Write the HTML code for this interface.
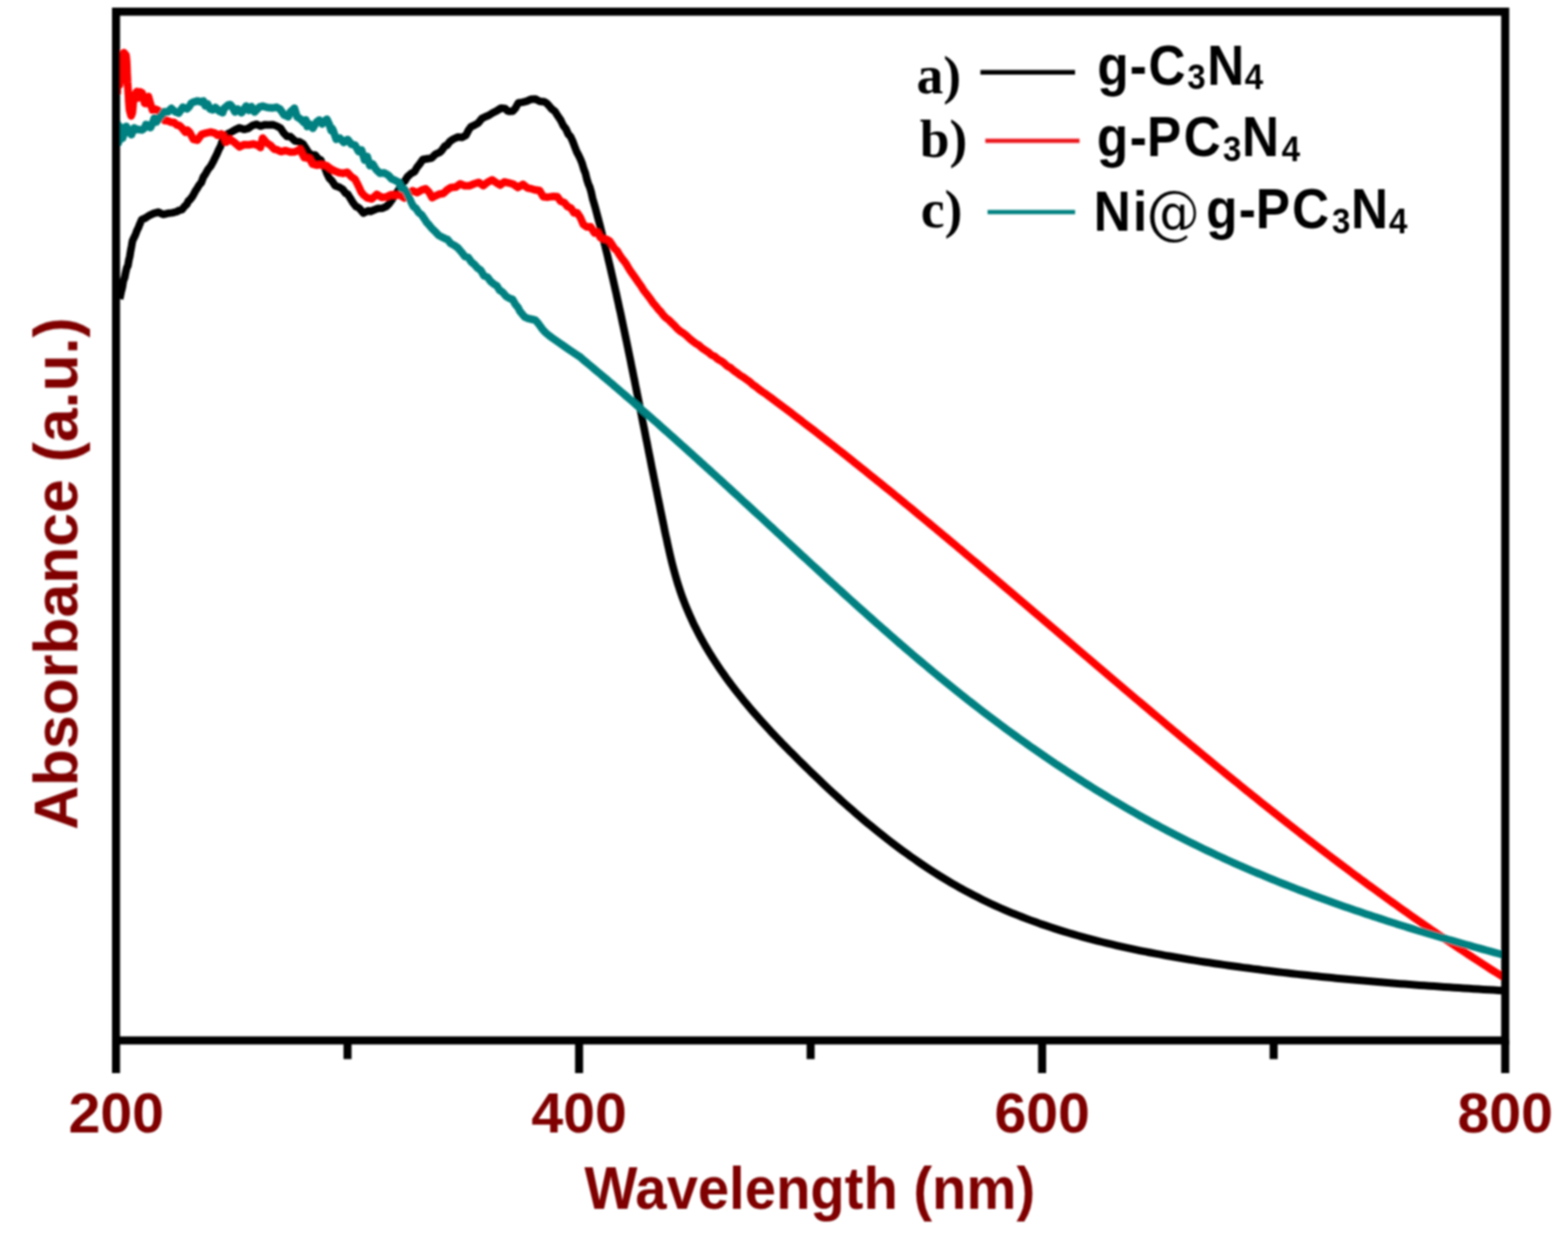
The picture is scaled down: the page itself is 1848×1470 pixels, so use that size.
<!DOCTYPE html>
<html><head><meta charset="utf-8"><title>Absorbance spectra</title>
<style>
html,body{margin:0;padding:0;background:#fff;}
body{width:1848px;height:1470px;overflow:hidden;}
svg{display:block;}
.tk{font-family:"Liberation Sans",Arial,sans-serif;font-weight:bold;fill:#800000;}
.lg{font-family:"Liberation Sans",Arial,sans-serif;font-weight:bold;fill:#000;}
.ls{font-family:"Liberation Serif","Times New Roman",serif;font-weight:bold;fill:#000;}
</style></head>
<body>
<svg width="1848" height="1470" viewBox="0 0 1848 1470">
<defs><filter id="soft"><feGaussianBlur stdDeviation="1"/></filter></defs>
<rect width="1848" height="1470" fill="#fff"/>
<g filter="url(#soft)">
<g fill="none" stroke-linejoin="round" stroke-linecap="butt">
<path d="M140.9,352.2 L141.7,349.4 L142.9,343.4 L143.6,341.1 L144.3,338.1 L145.0,333.2 L145.7,330.1 L146.9,327.4 L148.2,320.7 L149.4,315.7 L150.7,313.4 L151.8,306.9 L152.9,302.5 L154.0,295.6 L155.0,290.6 L156.1,284.2 L157.8,280.4 L159.7,276.6 L161.6,271.3 L162.9,268.9 L164.1,265.8 L167.0,258.9 L171.0,257.3 L175.7,254.1 L181.0,251.7 L186.6,250.1 L192.1,252.8 L197.5,251.5 L203.1,250.9 L208.4,249.5 L211.5,247.8 L214.4,247.2 L217.1,243.7 L220.4,240.5 L222.0,236.7 L223.7,235.6 L227.0,231.4 L230.6,224.6 L232.4,222.1 L234.8,218.0 L237.2,215.4 L239.7,208.6 L242.4,204.7 L245.2,199.6 L248.1,196.2 L250.8,191.4 L253.3,186.3 L255.6,181.7 L257.8,176.5 L260.0,172.3 L262.0,166.3 L264.1,162.3 L267.4,158.2 L272.0,156.0 L276.9,153.1 L282.2,150.7 L287.6,152.6 L292.7,151.3 L297.3,148.1 L302.1,146.4 L307.0,148.7 L311.9,147.1 L316.7,147.2 L321.5,146.9 L326.1,148.6 L330.7,151.2 L334.5,156.9 L338.3,160.8 L342.2,161.1 L347.5,166.1 L352.9,167.2 L357.0,169.6 L359.9,173.9 L363.4,179.6 L367.2,182.7 L371.5,182.8 L375.9,188.1 L378.0,188.5 L380.6,194.7 L383.1,198.2 L385.6,205.1 L388.2,210.3 L391.0,213.0 L395.0,218.9 L399.4,220.4 L403.8,223.0 L407.5,228.0 L409.5,228.5 L412.8,233.6 L415.7,238.5 L419.4,243.4 L421.6,244.2 L423.8,245.9 L428.2,251.2 L433.8,248.4 L436.6,249.2 L439.6,248.0 L444.9,245.8 L450.3,245.6 L454.9,243.7 L458.6,240.2 L460.8,237.2 L463.5,233.1 L466.6,228.3 L469.6,224.4 L472.2,219.0 L474.1,216.1 L477.0,213.4 L480.5,208.1 L484.5,204.5 L488.5,202.5 L491.6,197.1 L494.8,193.1 L498.3,188.0 L503.3,187.2 L508.7,186.3 L513.6,181.6 L518.2,179.6 L520.4,177.6 L524.5,171.8 L526.6,171.4 L530.2,166.7 L534.2,164.0 L539.4,161.6 L544.8,161.9 L549.1,159.5 L552.2,153.4 L555.3,149.3 L559.1,147.6 L563.5,145.1 L568.0,139.6 L572.9,137.3 L575.6,136.3 L580.8,133.0 L585.9,130.4 L590.6,127.4 L595.5,128.0 L598.0,130.6 L600.5,131.3 L604.4,130.9 L607.3,127.7 L611.0,121.1 L615.4,120.6 L620.6,119.4 L625.6,117.1 L631.1,116.8 L636.3,119.6 L641.6,120.0 L644.4,121.8 L646.8,124.4 L650.5,128.7 L654.1,131.4 L657.5,136.8 L660.8,141.6 L663.9,148.1 L666.9,151.8 L669.7,158.1 L672.4,161.0 L675.0,166.7 L677.4,173.0 L679.7,179.0 L681.9,183.0 L684.1,187.6 L686.1,192.7 L688.1,199.5 L689.9,204.0 L691.7,211.5 L693.5,217.1 L695.1,220.7 L696.8,226.6 L698.4,233.9 L699.9,239.0 L701.4,244.2 L702.9,249.9 L704.4,255.5 L705.9,261.2 L707.4,266.8 L708.8,272.5 L710.2,278.2 L711.6,283.8 L713.0,289.5 L714.4,295.1 L715.8,300.8 L717.1,306.5 L718.5,312.1 L719.8,317.8 L721.1,323.5 L722.4,329.1 L723.7,334.8 L725.0,340.5 L726.3,346.1 L727.5,351.8 L728.8,357.5 L730.0,363.2 L731.3,368.8 L732.5,374.5 L733.7,380.2 L734.9,385.9 L736.1,391.5 L737.3,397.2 L738.5,402.9 L739.7,408.6 L740.8,414.2 L742.0,419.9 L743.2,425.6 L744.3,431.3 L745.5,437.0 L746.6,442.7 L747.8,448.3 L748.9,454.0 L750.1,459.7 L751.2,465.4 L752.4,471.1 L753.5,476.8 L754.6,482.5 L755.8,488.1 L756.9,493.8 L758.0,499.5 L759.2,505.2 L760.3,510.9 L761.4,516.6 L762.6,522.3 L763.7,528.0 L764.8,533.7 L766.0,539.4 L767.1,545.1 L768.2,550.8 L769.4,556.5 L770.5,562.2 L771.7,567.9 L772.8,573.6 L774.0,579.3 L775.1,585.0 L776.3,590.7 L777.5,596.4 L778.6,602.1 L779.8,607.8 L781.0,613.5 L782.2,619.2 L783.3,624.9 L784.5,630.6 L785.8,636.3 L787.0,642.0 L788.3,647.7 L789.6,653.4 L790.9,659.0 L792.3,664.7 L793.8,670.3 L795.3,675.9 L796.9,681.5 L798.5,687.0 L800.3,692.5 L802.1,698.0 L804.0,703.5 L806.1,708.9 L808.2,714.3 L810.4,719.6 L812.7,724.9 L815.1,730.2 L817.5,735.4 L820.1,740.6 L822.7,745.7 L825.4,750.8 L828.2,755.9 L831.0,760.9 L834.0,765.8 L836.9,770.7 L840.0,775.6 L843.1,780.4 L846.3,785.2 L849.5,790.0 L852.8,794.7 L856.1,799.4 L859.5,804.0 L863.0,808.6 L866.5,813.2 L870.1,817.7 L873.7,822.2 L877.3,826.7 L881.0,831.2 L884.7,835.6 L888.5,840.0 L892.3,844.3 L896.2,848.7 L900.1,853.0 L904.0,857.3 L907.9,861.6 L911.9,865.8 L915.9,870.0 L920.0,874.3 L924.0,878.5 L928.1,882.6 L932.2,886.8 L936.4,890.9 L940.5,895.1 L944.7,899.2 L948.8,903.3 L953.0,907.4 L957.2,911.5 L961.5,915.6 L965.7,919.6 L970.0,923.7 L974.2,927.7 L978.5,931.7 L982.8,935.7 L987.2,939.6 L991.5,943.6 L995.9,947.5 L1000.3,951.4 L1004.7,955.2 L1009.1,959.1 L1013.5,962.9 L1018.0,966.7 L1022.5,970.4 L1027.0,974.1 L1031.5,977.8 L1036.1,981.5 L1040.6,985.1 L1045.2,988.7 L1049.8,992.3 L1054.5,995.8 L1059.1,999.3 L1063.8,1002.8 L1068.5,1006.2 L1073.2,1009.6 L1078.0,1012.9 L1082.7,1016.2 L1087.5,1019.5 L1092.3,1022.7 L1097.2,1025.9 L1102.0,1029.0 L1106.9,1032.1 L1111.8,1035.1 L1116.8,1038.1 L1121.7,1041.1 L1126.7,1043.9 L1131.7,1046.8 L1136.8,1049.6 L1141.9,1052.3 L1147.0,1055.0 L1152.1,1057.6 L1157.2,1060.2 L1162.4,1062.7 L1167.6,1065.2 L1172.8,1067.6 L1178.1,1070.0 L1183.4,1072.3 L1188.7,1074.6 L1194.0,1076.8 L1199.4,1078.9 L1204.7,1081.0 L1210.1,1083.1 L1215.5,1085.1 L1221.0,1087.1 L1226.4,1089.1 L1231.9,1090.9 L1237.4,1092.8 L1242.9,1094.6 L1248.4,1096.4 L1254.0,1098.1 L1259.5,1099.8 L1265.1,1101.4 L1270.7,1103.0 L1276.3,1104.6 L1281.9,1106.1 L1287.6,1107.6 L1293.2,1109.1 L1298.9,1110.5 L1304.6,1111.9 L1310.2,1113.2 L1315.9,1114.6 L1321.6,1115.9 L1327.3,1117.1 L1333.1,1118.4 L1338.8,1119.6 L1344.5,1120.8 L1350.3,1121.9 L1356.0,1123.0 L1361.8,1124.1 L1367.5,1125.2 L1373.3,1126.3 L1379.1,1127.3 L1384.8,1128.3 L1390.6,1129.3 L1396.4,1130.3 L1402.2,1131.2 L1407.9,1132.1 L1413.7,1133.1 L1419.5,1134.0 L1425.3,1134.8 L1431.1,1135.7 L1436.8,1136.5 L1442.6,1137.4 L1448.4,1138.2 L1454.2,1139.0 L1459.9,1139.8 L1465.7,1140.6 L1471.4,1141.3 L1477.2,1142.1 L1483.0,1142.8 L1488.7,1143.6 L1494.5,1144.3 L1500.2,1145.0 L1506.0,1145.7 L1511.7,1146.4 L1517.5,1147.0 L1523.2,1147.7 L1529.0,1148.4 L1534.7,1149.0 L1540.5,1149.6 L1546.2,1150.2 L1552.0,1150.8 L1557.7,1151.4 L1563.5,1152.0 L1569.3,1152.6 L1575.0,1153.2 L1580.8,1153.7 L1586.5,1154.3 L1592.3,1154.8 L1598.0,1155.3 L1603.8,1155.8 L1609.5,1156.3 L1615.3,1156.8 L1621.1,1157.3 L1626.8,1157.8 L1632.6,1158.3 L1638.4,1158.8 L1644.1,1159.2 L1649.9,1159.7 L1655.7,1160.1 L1661.5,1160.6 L1667.2,1161.0 L1673.0,1161.4 L1678.8,1161.8 L1684.6,1162.2 L1690.4,1162.6 L1696.2,1163.0 L1702.0,1163.4 L1707.8,1163.8 L1713.6,1164.2 L1719.4,1164.6 L1725.3,1164.9 L1731.1,1165.3 L1736.9,1165.7 L1742.8,1166.0 L1748.6,1166.4 L1754.4,1166.7 L1760.3,1167.0 L1766.1,1167.4 L1772.0,1167.7" stroke="#000" stroke-width="9"/>
<path d="M138.0,110.9 L138.1,109.1 L138.2,103.0 L138.3,98.1 L138.3,95.4 L138.4,91.7 L138.5,89.0 L138.6,86.3 L138.8,79.3 L139.4,79.4 L139.7,85.6 L139.9,88.7 L140.2,94.1 L140.4,95.6 L141.0,99.8 L141.5,96.1 L141.8,89.0 L142.0,87.9 L142.2,84.4 L142.3,78.5 L142.5,75.2 L142.7,73.7 L143.2,70.0 L146.0,62.0 L148.5,65.1 L149.0,69.1 L149.3,72.5 L149.6,78.6 L149.8,85.3 L149.9,88.5 L150.1,90.8 L150.3,96.5 L150.7,102.0 L151.1,108.8 L151.3,111.4 L151.5,113.7 L151.7,119.1 L152.1,123.9 L152.5,129.0 L153.0,131.1 L154.5,136.7 L156.0,133.1 L156.6,126.9 L157.0,121.9 L157.3,120.0 L157.7,114.6 L159.2,111.1 L161.3,107.8 L162.1,115.6 L164.0,115.0 L165.0,108.3 L167.5,109.6 L169.0,115.4 L170.5,121.7 L171.2,122.1 L173.5,122.1 L175.0,113.8 L176.9,120.9 L179.7,129.7 L183.7,128.8 L187.9,130.9 L190.0,136.4 L192.1,140.1 L194.1,142.3 L196.3,141.8 L201.7,144.2 L205.1,144.2 L208.3,147.3 L211.5,148.0 L214.7,151.1 L218.6,156.0 L220.9,153.5 L223.4,155.6 L228.0,164.4 L232.8,165.2 L237.7,158.4 L242.9,156.9 L248.4,155.7 L253.8,157.2 L256.3,159.5 L260.5,157.8 L263.3,159.7 L266.7,167.6 L271.0,164.1 L276.4,168.0 L282.2,173.1 L287.8,170.4 L293.4,170.7 L298.9,169.7 L304.2,171.6 L306.9,174.0 L309.5,162.7 L314.4,168.5 L318.9,171.3 L323.3,176.0 L325.9,176.2 L331.0,178.8 L336.6,177.5 L342.2,179.3 L347.9,178.9 L353.5,175.9 L358.5,185.7 L362.0,186.2 L364.8,186.9 L368.3,193.4 L373.1,194.8 L378.7,194.1 L384.6,195.2 L389.3,198.7 L394.4,201.5 L399.5,203.5 L404.2,204.4 L409.2,203.0 L414.0,208.3 L418.4,211.3 L422.4,219.1 L425.8,226.5 L429.0,230.3 L433.0,233.4 L438.2,234.5 L444.1,229.2 L449.9,232.7 L455.5,232.1 L460.8,229.5 L466.1,230.2 L471.3,229.8 L476.4,233.4 L481.5,227.8 L486.3,224.9 L491.6,227.1 L496.9,224.1 L501.6,222.5 L505.6,226.4 L509.3,233.1 L513.4,230.8 L517.8,228.8 L522.3,228.3 L527.0,223.9 L531.7,220.9 L537.5,220.4 L542.2,216.7 L547.6,219.0 L553.2,219.0 L558.7,216.8 L564.1,215.0 L569.5,218.9 L574.8,214.7 L580.0,212.0 L584.9,215.4 L589.5,218.3 L594.3,214.4 L599.5,215.6 L604.8,217.0 L610.5,221.1 L616.3,217.3 L621.6,221.6 L626.8,222.7 L631.6,224.1 L635.9,224.5 L640.3,232.0 L645.8,232.4 L651.2,231.6 L656.7,231.7 L660.8,237.3 L664.9,238.7 L668.9,243.5 L673.0,245.4 L676.6,251.1 L680.2,250.8 L683.9,256.3 L687.5,264.6 L691.4,267.5 L696.1,267.3 L700.7,274.7 L704.3,273.7 L707.7,280.3 L711.5,281.6 L715.0,282.2 L718.4,284.2 L721.5,288.6 L724.4,293.1 L727.3,295.6 L730.0,300.2 L732.6,304.1 L735.2,307.4 L737.8,310.7 L740.4,315.4 L742.9,319.4 L745.5,323.0 L748.1,326.6 L750.7,330.4 L753.3,334.2 L756.0,337.9 L758.6,342.3 L761.4,345.8 L764.1,349.3 L766.9,352.9 L769.8,357.3 L772.7,360.5 L775.6,364.3 L778.7,367.5 L781.8,371.6 L785.0,374.9 L788.2,377.1 L791.5,380.5 L794.9,383.8 L798.3,387.6 L801.8,390.4 L805.4,392.8 L808.9,395.5 L812.5,398.9 L816.2,401.9 L819.9,404.8 L823.6,406.9 L827.3,410.3 L831.0,412.7 L834.8,415.2 L838.5,418.5 L842.3,420.2 L846.1,423.5 L849.8,425.4 L853.6,428.2 L857.4,431.8 L861.1,433.6 L864.9,437.0 L868.6,439.5 L872.4,442.5 L876.1,444.7 L879.8,447.4 L883.6,450.0 L887.3,453.5 L891.0,455.9 L894.7,459.0 L898.4,461.7 L902.1,464.0 L905.8,466.8 L909.5,469.5 L913.2,472.3 L916.9,475.1 L920.6,477.9 L924.3,480.6 L928.0,483.4 L931.7,486.2 L935.3,489.0 L939.0,491.8 L942.7,494.6 L946.3,497.5 L950.0,500.3 L953.7,503.1 L957.3,505.9 L961.0,508.7 L964.6,511.6 L968.3,514.4 L971.9,517.3 L975.5,520.1 L979.2,523.0 L982.8,525.8 L986.4,528.7 L990.0,531.5 L993.7,534.4 L997.3,537.3 L1000.9,540.1 L1004.5,543.0 L1008.1,545.9 L1011.7,548.8 L1015.3,551.7 L1018.9,554.6 L1022.5,557.5 L1026.1,560.4 L1029.7,563.3 L1033.3,566.2 L1036.9,569.1 L1040.5,572.0 L1044.1,574.9 L1047.7,577.8 L1051.3,580.7 L1054.8,583.7 L1058.4,586.6 L1062.0,589.5 L1065.6,592.5 L1069.1,595.4 L1072.7,598.3 L1076.3,601.3 L1079.8,604.2 L1083.4,607.2 L1086.9,610.1 L1090.5,613.1 L1094.1,616.0 L1097.6,619.0 L1101.2,621.9 L1104.7,624.9 L1108.3,627.8 L1111.8,630.8 L1115.4,633.8 L1118.9,636.7 L1122.5,639.7 L1126.0,642.7 L1129.5,645.7 L1133.1,648.6 L1136.6,651.6 L1140.1,654.6 L1143.7,657.6 L1147.2,660.6 L1150.8,663.5 L1154.3,666.5 L1157.8,669.5 L1161.3,672.5 L1164.9,675.5 L1168.4,678.5 L1171.9,681.5 L1175.5,684.5 L1179.0,687.5 L1182.5,690.5 L1186.0,693.5 L1189.6,696.5 L1193.1,699.5 L1196.6,702.5 L1200.1,705.5 L1203.6,708.5 L1207.2,711.5 L1210.7,714.5 L1214.2,717.5 L1217.7,720.5 L1221.2,723.5 L1224.8,726.5 L1228.3,729.5 L1231.8,732.5 L1235.3,735.5 L1238.8,738.5 L1242.4,741.5 L1245.9,744.5 L1249.4,747.5 L1252.9,750.5 L1256.4,753.5 L1259.9,756.5 L1263.5,759.6 L1267.0,762.6 L1270.5,765.6 L1274.0,768.6 L1277.5,771.6 L1281.1,774.6 L1284.6,777.6 L1288.1,780.6 L1291.6,783.6 L1295.1,786.6 L1298.7,789.6 L1302.2,792.6 L1305.7,795.6 L1309.2,798.6 L1312.7,801.6 L1316.3,804.6 L1319.8,807.6 L1323.3,810.6 L1326.8,813.6 L1330.4,816.6 L1333.9,819.6 L1337.4,822.6 L1341.0,825.6 L1344.5,828.5 L1348.0,831.5 L1351.6,834.5 L1355.1,837.5 L1358.6,840.5 L1362.2,843.5 L1365.7,846.4 L1369.3,849.4 L1372.8,852.4 L1376.3,855.4 L1379.9,858.3 L1383.4,861.3 L1387.0,864.3 L1390.5,867.2 L1394.1,870.2 L1397.6,873.2 L1401.2,876.1 L1404.7,879.1 L1408.3,882.0 L1411.9,885.0 L1415.4,887.9 L1419.0,890.9 L1422.5,893.8 L1426.1,896.8 L1429.7,899.7 L1433.3,902.7 L1436.8,905.6 L1440.4,908.5 L1444.0,911.5 L1447.6,914.4 L1451.1,917.3 L1454.7,920.2 L1458.3,923.1 L1461.9,926.1 L1465.5,929.0 L1469.1,931.9 L1472.7,934.8 L1476.3,937.7 L1479.9,940.6 L1483.5,943.5 L1487.1,946.4 L1490.7,949.3 L1494.3,952.1 L1497.9,955.0 L1501.6,957.9 L1505.2,960.8 L1508.8,963.6 L1512.4,966.5 L1516.1,969.4 L1519.7,972.2 L1523.3,975.1 L1527.0,977.9 L1530.6,980.8 L1534.2,983.6 L1537.9,986.5 L1541.5,989.3 L1545.2,992.1 L1548.9,995.0 L1552.5,997.8 L1556.2,1000.6 L1559.9,1003.4 L1563.5,1006.2 L1567.2,1009.0 L1570.9,1011.8 L1574.6,1014.6 L1578.2,1017.4 L1581.9,1020.2 L1585.6,1022.9 L1589.3,1025.7 L1593.0,1028.5 L1596.7,1031.3 L1600.4,1034.0 L1604.2,1036.8 L1607.9,1039.5 L1611.6,1042.3 L1615.3,1045.0 L1619.0,1047.7 L1622.8,1050.4 L1626.5,1053.2 L1630.3,1055.9 L1634.0,1058.6 L1637.8,1061.3 L1641.5,1064.0 L1645.3,1066.7 L1649.0,1069.4 L1652.8,1072.1 L1656.6,1074.7 L1660.3,1077.4 L1664.1,1080.1 L1667.9,1082.7 L1671.7,1085.4 L1675.5,1088.0 L1679.3,1090.7 L1683.1,1093.3 L1686.9,1095.9 L1690.7,1098.5 L1694.5,1101.2 L1698.4,1103.8 L1702.2,1106.4 L1706.0,1109.0 L1709.9,1111.5 L1713.7,1114.1 L1717.6,1116.7 L1721.4,1119.3 L1725.3,1121.8 L1729.1,1124.4 L1733.0,1126.9 L1736.9,1129.5 L1740.8,1132.0 L1744.7,1134.5 L1748.5,1137.0 L1752.4,1139.6 L1756.3,1142.1 L1760.3,1144.6 L1764.2,1147.0 L1768.1,1149.5 L1772.0,1152.0" stroke="#ff0000" stroke-width="9"/>
<path d="M138.0,144.1 L138.1,147.9 L138.2,145.6 L138.3,149.2 L138.4,159.3 L138.5,161.6 L138.6,164.1 L138.8,165.8 L139.4,168.6 L139.7,165.6 L139.9,161.7 L140.2,154.1 L140.5,153.1 L141.0,149.0 L141.6,155.2 L141.9,161.1 L142.2,164.3 L142.6,163.7 L144.5,162.9 L146.3,156.9 L147.5,152.0 L148.8,149.0 L151.1,153.8 L152.0,156.3 L154.0,157.4 L154.9,158.8 L158.0,150.8 L161.5,152.7 L163.0,152.6 L167.5,153.2 L170.4,151.0 L172.0,146.7 L174.6,147.9 L177.3,150.5 L179.7,145.6 L182.0,139.1 L184.5,143.7 L187.0,140.7 L189.0,137.1 L191.0,135.7 L193.1,131.8 L197.7,132.1 L202.0,127.8 L206.1,131.5 L210.6,133.3 L215.5,126.3 L220.5,128.4 L223.0,125.9 L225.5,121.5 L228.0,120.3 L233.0,118.9 L237.7,120.5 L239.8,119.0 L242.0,125.0 L244.6,122.4 L247.5,128.4 L250.7,129.5 L254.0,126.6 L258.6,131.2 L262.4,132.9 L264.0,128.0 L268.7,123.9 L271.3,123.2 L274.0,126.4 L276.9,132.0 L280.0,128.4 L284.7,132.9 L290.1,124.9 L293.2,130.2 L296.4,125.6 L300.0,132.1 L303.0,129.0 L306.3,125.8 L309.5,125.1 L315.2,126.8 L320.7,127.3 L325.9,126.3 L330.1,128.7 L334.7,135.4 L339.7,137.7 L342.0,132.1 L347.0,127.6 L350.2,137.9 L354.2,140.4 L358.5,144.7 L360.4,141.2 L362.0,149.2 L364.2,145.7 L368.7,151.3 L373.0,144.0 L376.2,141.4 L379.7,146.2 L385.2,140.4 L387.9,146.2 L390.3,153.9 L391.4,151.4 L392.7,153.9 L396.2,164.1 L400.5,162.8 L405.2,167.9 L409.7,164.4 L414.2,170.1 L418.5,171.1 L422.6,178.7 L426.1,176.8 L429.8,188.8 L432.8,184.4 L435.9,195.3 L439.3,193.3 L443.3,200.0 L447.8,204.2 L452.7,203.8 L457.5,206.4 L461.6,210.9 L465.8,212.7 L469.9,214.8 L473.9,222.4 L476.7,223.2 L479.5,227.2 L482.2,233.1 L484.8,238.7 L487.1,243.3 L490.3,245.7 L493.6,250.7 L497.0,253.3 L501.0,259.2 L503.1,262.6 L505.2,264.6 L509.2,269.5 L513.0,273.1 L517.0,277.3 L520.7,279.4 L524.8,281.3 L527.6,282.5 L531.1,286.9 L535.1,289.1 L539.4,292.0 L543.8,297.1 L548.0,302.5 L551.7,303.4 L555.4,308.7 L559.1,311.8 L562.8,316.0 L566.5,318.5 L570.3,325.1 L574.3,326.6 L578.3,331.8 L582.2,335.0 L585.8,337.2 L588.8,342.2 L591.4,343.6 L593.4,345.7 L596.5,349.4 L600.8,351.9 L604.0,352.8 L607.1,358.3 L610.8,362.8 L612.7,366.9 L616.0,370.9 L618.3,373.6 L622.2,375.3 L627.2,376.5 L631.0,377.4 L633.9,380.7 L637.2,385.2 L639.0,387.7 L641.1,390.1 L643.3,392.4 L646.9,395.4 L650.9,398.4 L655.2,401.4 L659.5,404.4 L663.7,407.3 L668.6,410.7 L671.2,412.5 L673.8,414.2 L676.4,415.9 L680.9,418.9 L684.0,421.0 L687.2,424.0 L690.6,426.8 L694.0,429.6 L697.4,432.4 L700.7,435.2 L704.1,438.1 L707.5,440.9 L710.8,443.7 L714.2,446.5 L717.5,449.4 L720.9,452.2 L724.2,455.1 L727.5,457.9 L730.9,460.8 L734.2,463.6 L737.5,466.5 L740.8,469.4 L744.2,472.2 L747.5,475.1 L750.8,478.0 L754.1,480.9 L757.4,483.8 L760.7,486.7 L764.0,489.5 L767.3,492.4 L770.6,495.3 L773.9,498.2 L777.2,501.2 L780.4,504.1 L783.7,507.0 L787.0,509.9 L790.3,512.8 L793.5,515.7 L796.8,518.6 L800.1,521.6 L803.3,524.5 L806.6,527.4 L809.9,530.4 L813.1,533.3 L816.4,536.2 L819.6,539.2 L822.9,542.1 L826.1,545.1 L829.4,548.0 L832.6,551.0 L835.9,553.9 L839.1,556.9 L842.4,559.8 L845.6,562.8 L848.8,565.7 L852.1,568.7 L855.3,571.7 L858.6,574.6 L861.8,577.6 L865.0,580.6 L868.3,583.5 L871.5,586.5 L874.7,589.5 L877.9,592.5 L881.2,595.4 L884.4,598.4 L887.6,601.4 L890.8,604.4 L894.1,607.3 L897.3,610.3 L900.5,613.3 L903.7,616.3 L907.0,619.3 L910.2,622.2 L913.4,625.2 L916.6,628.2 L919.9,631.2 L923.1,634.2 L926.3,637.2 L929.5,640.1 L932.7,643.1 L936.0,646.1 L939.2,649.1 L942.4,652.1 L945.6,655.1 L948.9,658.0 L952.1,661.0 L955.3,664.0 L958.6,667.0 L961.8,669.9 L965.0,672.9 L968.3,675.9 L971.5,678.9 L974.7,681.8 L978.0,684.8 L981.2,687.8 L984.5,690.7 L987.7,693.7 L991.0,696.6 L994.2,699.6 L997.5,702.6 L1000.7,705.5 L1004.0,708.5 L1007.2,711.4 L1010.5,714.3 L1013.8,717.3 L1017.0,720.2 L1020.3,723.1 L1023.6,726.1 L1026.9,729.0 L1030.1,731.9 L1033.4,734.8 L1036.7,737.7 L1040.0,740.6 L1043.3,743.5 L1046.6,746.4 L1049.9,749.3 L1053.2,752.2 L1056.5,755.1 L1059.8,758.0 L1063.2,760.9 L1066.5,763.7 L1069.8,766.6 L1073.1,769.4 L1076.5,772.3 L1079.8,775.1 L1083.2,778.0 L1086.5,780.8 L1089.9,783.6 L1093.3,786.4 L1096.6,789.3 L1100.0,792.1 L1103.4,794.9 L1106.8,797.7 L1110.2,800.4 L1113.6,803.2 L1117.0,806.0 L1120.4,808.8 L1123.8,811.5 L1127.2,814.3 L1130.6,817.0 L1134.1,819.7 L1137.5,822.5 L1140.9,825.2 L1144.4,827.9 L1147.9,830.6 L1151.3,833.3 L1154.8,836.0 L1158.3,838.7 L1161.8,841.3 L1165.3,844.0 L1168.8,846.6 L1172.3,849.3 L1175.8,851.9 L1179.3,854.5 L1182.8,857.1 L1186.4,859.8 L1189.9,862.3 L1193.4,864.9 L1197.0,867.5 L1200.6,870.1 L1204.1,872.6 L1207.7,875.2 L1211.3,877.7 L1214.9,880.3 L1218.5,882.8 L1222.1,885.3 L1225.7,887.8 L1229.3,890.3 L1232.9,892.8 L1236.5,895.2 L1240.2,897.7 L1243.8,900.2 L1247.5,902.6 L1251.1,905.0 L1254.8,907.4 L1258.4,909.9 L1262.1,912.3 L1265.8,914.6 L1269.5,917.0 L1273.2,919.4 L1276.9,921.7 L1280.6,924.1 L1284.3,926.4 L1288.0,928.7 L1291.7,931.1 L1295.5,933.4 L1299.2,935.6 L1303.0,937.9 L1306.7,940.2 L1310.5,942.5 L1314.2,944.7 L1318.0,946.9 L1321.8,949.1 L1325.6,951.4 L1329.4,953.6 L1333.2,955.7 L1337.0,957.9 L1340.8,960.1 L1344.6,962.2 L1348.5,964.4 L1352.3,966.5 L1356.1,968.6 L1360.0,970.7 L1363.8,972.8 L1367.7,974.9 L1371.6,976.9 L1375.4,979.0 L1379.3,981.0 L1383.2,983.0 L1387.1,985.0 L1391.0,987.0 L1394.9,989.0 L1398.8,991.0 L1402.8,993.0 L1406.7,994.9 L1410.6,996.8 L1414.6,998.8 L1418.5,1000.7 L1422.5,1002.6 L1426.4,1004.4 L1430.4,1006.3 L1434.4,1008.2 L1438.4,1010.0 L1442.3,1011.8 L1446.3,1013.7 L1450.3,1015.5 L1454.3,1017.3 L1458.3,1019.1 L1462.4,1020.8 L1466.4,1022.6 L1470.4,1024.3 L1474.4,1026.1 L1478.5,1027.8 L1482.5,1029.5 L1486.6,1031.2 L1490.6,1032.9 L1494.7,1034.6 L1498.7,1036.2 L1502.8,1037.9 L1506.9,1039.6 L1511.0,1041.2 L1515.0,1042.8 L1519.1,1044.4 L1523.2,1046.0 L1527.3,1047.6 L1531.4,1049.2 L1535.5,1050.8 L1539.6,1052.3 L1543.7,1053.9 L1547.8,1055.4 L1552.0,1057.0 L1556.1,1058.5 L1560.2,1060.0 L1564.4,1061.5 L1568.5,1063.0 L1572.6,1064.5 L1576.8,1066.0 L1580.9,1067.4 L1585.1,1068.9 L1589.2,1070.3 L1593.4,1071.8 L1597.5,1073.2 L1601.7,1074.6 L1605.9,1076.0 L1610.0,1077.4 L1614.2,1078.8 L1618.4,1080.2 L1622.6,1081.6 L1626.7,1082.9 L1630.9,1084.3 L1635.1,1085.7 L1639.3,1087.0 L1643.5,1088.3 L1647.7,1089.7 L1651.9,1091.0 L1656.1,1092.3 L1660.3,1093.6 L1664.5,1094.9 L1668.7,1096.2 L1672.9,1097.5 L1677.1,1098.7 L1681.3,1100.0 L1685.5,1101.3 L1689.7,1102.5 L1693.9,1103.8 L1698.1,1105.0 L1702.3,1106.2 L1706.6,1107.5 L1710.8,1108.7 L1715.0,1109.9 L1719.2,1111.1 L1723.4,1112.3 L1727.7,1113.5 L1731.9,1114.7 L1736.1,1115.9 L1740.3,1117.0 L1744.5,1118.2 L1748.8,1119.4 L1753.0,1120.5 L1757.2,1121.7 L1761.4,1122.8 L1765.7,1124.0 L1769.9,1125.1 L1772.0,1125.7" stroke="#008080" stroke-width="9"/>
</g>
<g stroke="#000" fill="none">
<rect x="136.75" y="13.75" width="1637.25" height="1212.75" stroke-width="9.5"/>
<path d="M136.75,1226 V1265 M682.5,1226 V1265 M1228.2,1226 V1265 M1774,1226 V1265 M409.6,1226 V1248.5 M955.4,1226 V1248.5 M1501.1,1226 V1248.5" stroke-width="9.5"/>
</g>
<g class="tk" font-size="67.5" text-anchor="middle">
<text x="137" y="1335">200</text>
<text x="682.5" y="1335">400</text>
<text x="1228.2" y="1335">600</text>
<text x="1774" y="1335">800</text>
</g>
<text class="tk" font-size="70.5" text-anchor="middle" transform="translate(954.4,1424.8) scale(0.940,1)">Wavelength (nm)</text>
<text class="tk" font-size="72.5" text-anchor="middle" transform="translate(91.1,676.2) rotate(-90) scale(0.987,1)">Absorbance (a.u.)</text>
<text class="ls" font-size="63" x="1080.2" y="110.4">a)</text>
<text class="ls" font-size="63" x="1084.0" y="184.5">b)</text>
<text class="ls" font-size="63" x="1085.2" y="268.4">c)</text>
<path d="M1155.5,85.3 H1267" stroke="#000" stroke-width="5.5"/>
<path d="M1161.3,165.9 H1272.3" stroke="#ec141e" stroke-width="5"/>
<path d="M1163.9,249.9 H1267.1" stroke="#008080" stroke-width="5"/>
<text class="lg" transform="scale(0.9100,1)"><tspan x="1421.1 1463.3 1487.4" y="100.0" font-size="66.5">g-C</tspan><tspan x="1537.7" y="105.5" font-size="43.0">3</tspan><tspan x="1563.4" y="100.0" font-size="66.5">N</tspan><tspan x="1612.2" y="105.5" font-size="43.0">4</tspan></text>
<text class="lg" transform="scale(0.9100,1)"><tspan x="1420.6 1463.1 1485.4 1532.9" y="184.5" font-size="66.5">g-PC</tspan><tspan x="1583.7" y="190.3" font-size="43.0">3</tspan><tspan x="1608.6" y="184.5" font-size="66.5">N</tspan><tspan x="1659.8" y="190.3" font-size="43.0">4</tspan></text>
<text class="lg" transform="scale(0.9100,1)"><tspan x="1416.4 1467.2" y="272.2" font-size="66.5">Ni</tspan><tspan x="1485.0" y="274.0" font-size="69.0" style="font-family:'DejaVu Serif',serif;font-weight:normal">@</tspan><tspan x="1562.0 1604.4 1626.3 1673.5" y="268.8" font-size="66.5">g-PC</tspan><tspan x="1724.9" y="275.0" font-size="43.0">3</tspan><tspan x="1749.8" y="268.8" font-size="66.5">N</tspan><tspan x="1799.0" y="275.0" font-size="43.0">4</tspan></text>
</g>
</svg>
</body></html>
